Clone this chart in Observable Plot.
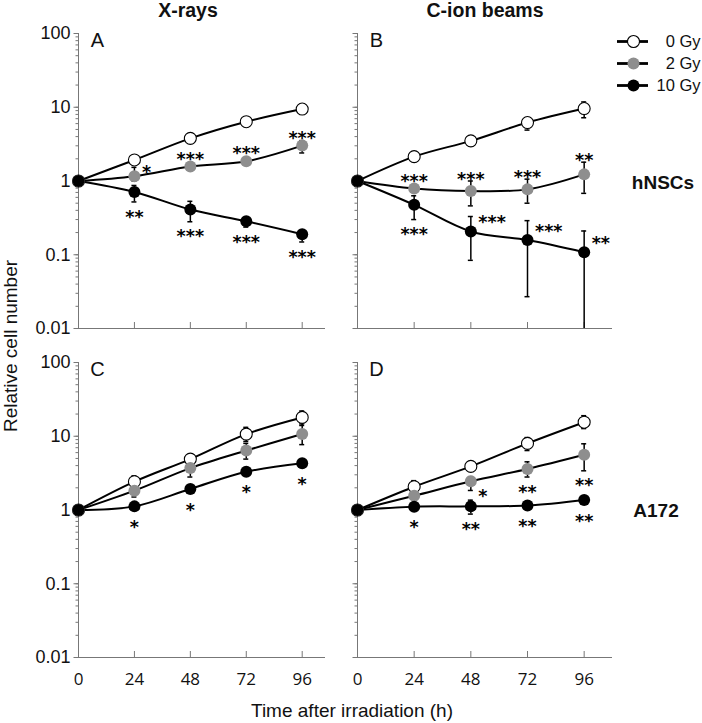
<!DOCTYPE html>
<html><head><meta charset="utf-8">
<script src="https://cdn.jsdelivr.net/npm/d3@7"></script>
<script src="https://cdn.jsdelivr.net/npm/@observablehq/plot@0.6"></script>
<style>
body{margin:0;background:#fff;}
#chart{position:relative;width:702px;height:723px;overflow:hidden;font-family:"Liberation Sans",Arial,sans-serif;color:#111;background:#fff;}
#chart .lbl{position:absolute;white-space:nowrap;transform:translate(-50%,-50%);line-height:1;}
#chart .holder{position:absolute;}
#chart svg{overflow:visible;}
</style></head><body><div id="chart"></div>
<script>
// ---------- data ----------
const times = [0, 24, 48, 72, 96];
const doses = ["0 Gy", "2 Gy", "10 Gy"];
const panelIds = ["A", "B", "C", "D"];
const columnTitles = ["X-rays", "C-ion beams"];
const rowTitles = ["hNSCs", "A172"];
const yTickValues = [0.01, 0.1, 1, 10, 100];
const xTickValues = [24, 48, 72, 96];
const xTickLabels = [0, 24, 48, 72, 96];
const xAxisTitle = "Time after irradiation (h)";
const yAxisTitle = "Relative cell number";

// mean relative cell number per dose [0 Gy, 2 Gy, 10 Gy], at times
const meanA = [[1, 1.93, 3.79, 6.37, 9.46], [1, 1.16, 1.57, 1.85, 3.02], [1, 0.71, 0.41, 0.284, 0.19]];
const loA   = [[null, null, null, null, null], [null, 1.0, null, null, 2.4], [null, 0.52, 0.28, 0.237, 0.149]];
const hiA   = [[null, null, null, null, null], [null, 1.53, null, null, 3.53], [null, 0.87, 0.53, 0.32, 0.214]];

const meanB = [[1, 2.14, 3.5, 6.2, 9.6], [1, 0.79, 0.73, 0.77, 1.23], [1, 0.475, 0.207, 0.158, 0.108]];
const loB   = [[null, null, null, 4.9, 7.2], [null, null, 0.46, 0.5, 0.68], [null, 0.30, 0.084, 0.027, 0.01]];
const hiB   = [[null, null, null, 7.1, 11.8], [null, null, 1.0, 1.06, 1.8], [null, 0.63, 0.33, 0.29, 0.21]];

const meanC = [[1, 2.42, 4.9, 10.7, 18], [1, 1.83, 3.7, 6.4, 10.7], [1, 1.12, 1.93, 3.3, 4.3]];
const loC   = [[null, 2.0, null, 8.5, 14], [null, 1.5, 2.8, 4.9, 7.7], [null, null, null, null, null]];
const hiC   = [[null, 2.9, null, 13.2, 22], [null, 2.1, 4.4, 8.0, 14.7], [null, null, null, null, null]];

const meanD = [[1, 2.07, 3.9, 8.0, 15.5], [1, 1.56, 2.45, 3.6, 5.6], [1, 1.11, 1.12, 1.15, 1.37]];
const loD   = [[null, 1.8, null, 6.4, 12.7], [null, null, 1.84, 2.8, 3.4], [null, null, 0.88, null, null]];
const hiD   = [[null, 2.5, null, 9.6, 19], [null, null, 2.83, 4.5, 7.9], [null, null, 1.36, null, null]];

// significance marks [dose index][time index] and their placement
const starsA = [[null, null, null, null, null], [null, "*", "***", "***", "***"], [null, "**", "***", "***", "***"]];
const placeA = [[null, null, null, null, null], [null, "e", "above", "above", "above"], [null, "below", "below", "below", "below"]];
const starsB = [[null, null, null, null, null], [null, "***", "***", "***", "**"], [null, "***", "***", "***", "**"]];
const placeB = [[null, null, null, null, null], [null, "above", "above", "above", "above"], [null, "below", "ne", "ne", "ne"]];
const starsC = [[null, null, null, null, null], [null, null, null, null, null], [null, "*", "*", "*", "*"]];
const placeC = [[null, null, null, null, null], [null, null, null, null, null], [null, "below", "below", "below", "below"]];
const starsD = [[null, null, null, null, null], [null, null, "*", "**", "**"], [null, "*", "**", "**", "**"]];
const placeD = [[null, null, null, null, null], [null, null, "se", "below", "below"], [null, "below", "below", "below", "below"]];

const panelData = {
  A: {mean: meanA, lo: loA, hi: hiA, stars: starsA, place: placeA},
  B: {mean: meanB, lo: loB, hi: hiB, stars: starsB, place: placeB},
  C: {mean: meanC, lo: loC, hi: hiC, stars: starsC, place: placeC},
  D: {mean: meanD, lo: loD, hi: hiD, stars: starsD, place: placeD}
};

// ---------- styles ----------
const doseFill = {"0 Gy": "#ffffff", "2 Gy": "#8e8e8e", "10 Gy": "#000000"};
const doseStroke = {"0 Gy": "#000000", "2 Gy": "none", "10 Gy": "none"};
const axisColor = "#777";
const DOT_R = 6;
const STAR_FONT = "'DejaVu Sans', sans-serif";
const STAR_SIZE = 17.5;

const chart = document.getElementById("chart");

function addLabel(text, x, y, css) {
  const d = document.createElement("div");
  d.className = "lbl";
  d.textContent = text;
  d.style.left = x + "px";
  d.style.top = y + "px";
  Object.assign(d.style, css || {});
  chart.appendChild(d);
}

function makePanel(id, idx) {
  const col = idx % 2, row = Math.floor(idx / 2);
  const isLeft = col === 0, isBottom = row === 1;
  const innerW = isLeft ? 247 : 255;
  const innerH = 295;
  const mL = isLeft ? 60 : 10, mR = 30, mT = 10, mB = isBottom ? 40 : 10;
  const xMax = isLeft ? 106 : 108;
  const left = isLeft ? 78 - mL : 357 - mL;
  const top = isBottom ? 362 - mT : 33 - mT;

  const pd = panelData[id];
  const rows = [];
  doses.forEach((dose, di) => {
    times.forEach((t, ti) => {
      rows.push({dose, t, v: pd.mean[di][ti], lo: pd.lo[di][ti], hi: pd.hi[di][ti],
                 star: pd.stars[di][ti], place: pd.place[di][ti]});
    });
  });
  const errRows = rows.filter(r => r.lo != null && r.hi != null);

  // same mapping as the plot's y scale (high values at the top)
  const yScale = Plot.scale({y: {type: "log", domain: [0.01, 100], range: [mT + innerH, mT]}});
  const py = v => yScale.apply(v);
  const starRows = rows.filter(r => r.star).map(r => {
    const vp = py(r.v);
    let dx = 0, dy = 0, anchor = "middle";
    if (r.place === "above") {
      const topOff = Math.min(-DOT_R, r.hi != null ? py(r.hi) - vp : -DOT_R);
      dy = topOff - 1.5;
    } else if (r.place === "below") {
      const botOff = Math.max(DOT_R, r.lo != null ? py(r.lo) - vp : DOT_R);
      dy = botOff + 15;
    } else if (r.place === "ne") {
      dx = 7.5; dy = -8.7; anchor = "start";
    } else if (r.place === "e") {
      dx = 7.5; dy = -3.9; anchor = "start";
    } else if (r.place === "se") {
      dx = 7.5; dy = 14.8; anchor = "start";
    }
    return {...r, dx, dy, anchor};
  });

  const marks = [
    Plot.ruleX([0], {stroke: axisColor, strokeWidth: 1}),
    Plot.ruleY([0.01], {stroke: axisColor, strokeWidth: 1}),
    Plot.axisY({tickSize: 2.5, tickFormat: () => "", stroke: axisColor, label: null}),
    Plot.axisY(yTickValues, {tickSize: 4.5, tickPadding: 3.5, label: null, stroke: axisColor, fill: "#111",
      fontSize: 18, tickFormat: isLeft ? (d => String(d)) : (() => "")}),
    Plot.axisX(xTickValues, {tickSize: -6, tickFormat: () => "", stroke: axisColor, label: null})
  ];
  if (isBottom) {
    marks.push(Plot.axisX(xTickLabels, {tickSize: 0, tickPadding: 15, tickFormat: d => String(d), label: null,
      fill: "#111", fontSize: 17, fontFamily: "Open Sans"}));
  }
  marks.push(
    Plot.text([id], {frameAnchor: "top-left", dx: 19, dy: -1, textAnchor: "middle", lineAnchor: "top",
      fontSize: 20, fill: "#111"}),
    Plot.line(rows, {x: "t", y: "v", z: "dose", curve: "catmull-rom", stroke: "#000", strokeWidth: 2}),
    Plot.ruleX(errRows, {x: "t", y1: "lo", y2: "hi", stroke: "#000", strokeWidth: 1.5}),
    Plot.ruleY(errRows, {y: "hi", x1: "t", x2: "t", insetLeft: -2.5, insetRight: -2.5, stroke: "#000", strokeWidth: 1.5}),
    Plot.ruleY(errRows.filter(r => r.lo > 0.01), {y: "lo", x1: "t", x2: "t", insetLeft: -2.5, insetRight: -2.5, stroke: "#000", strokeWidth: 1.5})
  );
  doses.forEach(dose => {
    marks.push(Plot.dot(rows.filter(r => r.dose === dose), {x: "t", y: "v", r: DOT_R,
      fill: doseFill[dose], stroke: doseStroke[dose], strokeWidth: 1.1}));
  });
  starRows.forEach(r => {
    marks.push(Plot.text([r], {x: "t", y: "v", text: "star", dx: r.dx, dy: r.dy, textAnchor: r.anchor,
      lineAnchor: "middle", fontSize: STAR_SIZE, fontFamily: STAR_FONT, fontWeight: "bold", fill: "#000"}));
  });

  const svg = Plot.plot({
    width: mL + innerW + mR,
    height: mT + innerH + mB,
    marginLeft: mL, marginRight: mR, marginTop: mT, marginBottom: mB,
    x: {domain: [0, xMax], label: null},
    y: {type: "log", domain: [0.01, 100], label: null},
    style: {fontFamily: "'Liberation Sans', Arial, sans-serif", fontSize: "18px", background: "transparent", color: "#111", overflow: "visible"},
    marks
  });
  const holder = document.createElement("div");
  holder.className = "holder";
  holder.style.left = left + "px";
  holder.style.top = top + "px";
  holder.appendChild(svg);
  chart.appendChild(holder);
}

panelIds.forEach((id, i) => makePanel(id, i));

// legend
const legend = Plot.plot({
  width: 122, height: 70, margin: 0,
  y: {type: "point", domain: doses, range: [15, 60], padding: 0, axis: null},
  style: {fontFamily: "'Liberation Sans', Arial, sans-serif", fontSize: "16px", background: "transparent", overflow: "visible"},
  marks: [
    Plot.ruleY(doses, {y: d => d, insetLeft: 37, insetRight: 54, stroke: "#000", strokeWidth: 2.8}),
    ...doses.map(d => Plot.dot([d], {y: x => x, frameAnchor: "left", dx: 53, r: DOT_R,
      fill: doseFill[d], stroke: doseStroke[d], strokeWidth: 1.1})),
    Plot.text(doses, {y: d => d, text: d => d, frameAnchor: "right", textAnchor: "end", dx: -2, fontSize: 16.5, fill: "#111"})
  ]
});
const lh = document.createElement("div");
lh.className = "holder";
lh.style.left = "580px";
lh.style.top = "25px";
lh.appendChild(legend);
chart.appendChild(lh);

// titles
addLabel(columnTitles[0], 188, 11, {fontWeight: "bold", fontSize: "19.5px"});
addLabel(columnTitles[1], 485, 11, {fontWeight: "bold", fontSize: "19.5px"});
addLabel(rowTitles[0], 663, 182, {fontWeight: "bold", fontSize: "19px"});
addLabel(rowTitles[1], 656, 510, {fontWeight: "bold", fontSize: "19px"});
addLabel(xAxisTitle, 352, 710, {fontSize: "19px"});
addLabel(yAxisTitle, 10, 346, {fontSize: "19px", transform: "translate(-50%,-50%) rotate(-90deg)"});
</script>
</body></html>
